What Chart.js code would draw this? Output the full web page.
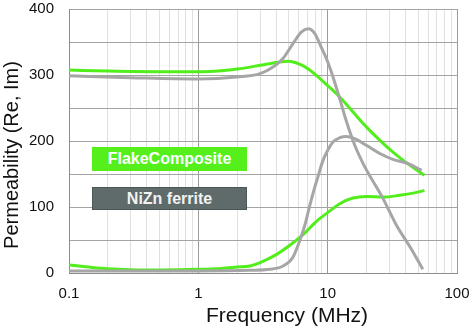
<!DOCTYPE html>
<html><head><meta charset="utf-8">
<script src="https://cdn.jsdelivr.net/npm/chart.js@4"></script>
<style>
html,body{margin:0;padding:0;background:#fff;}
#wrap{position:relative;width:473px;height:330px;}
canvas{display:block}
.tag{position:absolute;font-family:"Liberation Sans",Arial,sans-serif;font-weight:bold;font-size:16px;text-align:center;box-sizing:border-box;}
</style></head><body>
<div id="wrap"><canvas id="c" width="473" height="330"></canvas>
<div id="tag0" class="tag" style="left:92px;top:147px;width:155px;height:24px;line-height:24px;background:#55f01c;color:#fff;"></div>
<div id="tag1" class="tag" style="left:92px;top:187px;width:155px;height:23px;line-height:21px;background:#5f6b6b;color:#f2f2f2;border:1px solid #4c5858;"></div>
</div>
<script>
// ---- data ----
const seriesNames = ['FlakeComposite', 'NiZn ferrite'];
const xTitle = 'Frequency (MHz)';
const yTitle = 'Permeability (Re, Im)';

const flakeReFreq = [0.1,0.2,0.5,1,1.5,2,3,4,5,6,7,8,10,12.4,15.7,20,25,32,40,56];
const flakeRe     = [307.5,306,305,305,306.5,309,314.7,319,321,317,310,301,284,266.7,244,221,202,183,168,148];

const flakeImFreq = [0.1,0.15,0.2,0.3,0.5,1,1.5,2,2.5,3.16,4,5.1,6.45,8.15,10,12.4,15.7,20,27,36,46,56];
const flakeIm     = [12,8.5,6.5,5,4.5,5.5,7,9,10.6,17.7,27.8,42,58,78,91.5,105,113.6,116,115,117.7,121,125];

const niznReFreq = [0.1,0.3,1,2,3,3.78,4.51,5.39,6.25,7.07,7.95,8.93,10,11,12.4,13.9,16.2,18.8,21.8,26.8,34.1,43.4,54.4];
const niznRe     = [298.7,296,294,297,302,312,325,347.5,365,370,362.7,342,320,297,264,231,193.5,165.8,143,112.7,72,39.4,5.6];

const niznImFreq = [0.1,0.5,1,2.5,3.57,4.52,5.39,6.03,6.65,7.28,7.95,8.4,9.1,10,11,12.4,13.9,16.2,19.9,25.3,32.3,40.7,53.3];
const niznIm     = [3,3,3,4,5.6,10.6,24,47,72,102.6,130,145.5,168,186,198.5,205,207,203.6,193.5,181,171.8,166.7,155.6];

const xTickValues = [0.1,0.2,0.3,0.4,0.5,0.6,0.7,0.8,0.9,1,2,3,4,5,6,7,8,9,10,20,30,40,50,60,70,80,90,100];
const xMajorTicks = [0.1,1,10,100];
const xTickLabels = ['0.1','1','10','100'];
const yTickLabels = [0,100,200,300,400];

// ---- build ----
document.getElementById('tag0').textContent = seriesNames[0];
document.getElementById('tag1').textContent = seriesNames[1];

const pts = (xs, ys) => xs.map((x, i) => ({x, y: ys[i]}));
const GREEN = '#52ee1c', GRAY = '#a6a6a6';
const FONT = '"Liberation Sans", Arial, sans-serif';
const isMajor = v => xMajorTicks.some(m => Math.abs(m - v) < 1e-9);

function ds(label, data, color){
  return {label, data, borderColor: color, borderWidth: 3, pointRadius: 0,
          showLine: true, fill: false, cubicInterpolationMode: 'monotone'};
}

const axisTitles = {
  id: 'axisTitles',
  afterDraw(chart){
    const a = chart.chartArea, c = chart.ctx;
    c.save();
    c.fillStyle = '#111';
    c.textAlign = 'center';
    c.textBaseline = 'middle';
    c.font = '21px ' + FONT;
    c.fillText(xTitle, (a.left + a.right)/2 + 24, a.bottom + 43);
    c.translate(12, (a.top + a.bottom)/2 + 14);
    c.rotate(-Math.PI/2);
    c.font = '20px ' + FONT;
    c.fillText(yTitle, 0, 0);
    c.restore();
  }
};

new Chart(document.getElementById('c'), {
  type: 'scatter',
  data: { datasets: [
    ds(seriesNames[1] + ' Re', pts(niznReFreq, niznRe), GRAY),
    ds(seriesNames[1] + ' Im', pts(niznImFreq, niznIm), GRAY),
    ds(seriesNames[0] + ' Re', pts(flakeReFreq, flakeRe), GREEN),
    ds(seriesNames[0] + ' Im', pts(flakeImFreq, flakeIm), GREEN)
  ]},
  options: {
    responsive: false, animation: false, devicePixelRatio: 1,
    layout: { padding: { top: 9, right: 16, left: 0, bottom: 0 } },
    plugins: { legend: { display: false }, tooltip: { enabled: false } },
    scales: {
      x: {
        type: 'logarithmic', min: 0.1, max: 100,
        afterBuildTicks: s => { s.ticks = xTickValues.map(v => ({value: v})); },
        afterFit: s => { s.height = 57; s.paddingLeft = 0; s.paddingRight = 0; },
        ticks: {
          autoSkip: false, maxRotation: 0, padding: 0, color: '#111',
          font: { family: FONT, size: 15 },
          callback: v => { const i = xMajorTicks.findIndex(m => Math.abs(m - v) < 1e-9); return i >= 0 ? xTickLabels[i] : ''; }
        },
        grid: { drawTicks: true, tickLength: 12, tickColor: 'rgba(0,0,0,0)', lineWidth: 1,
          color: ctx => (ctx.tick && isMajor(ctx.tick.value)) ? '#9c9c9c' : '#e0e0e0' },
        border: { color: '#8c8c8c', width: 1 }
      },
      y: {
        type: 'linear', min: 0, max: 400,
        afterFit: s => { s.width = 69; s.paddingTop = 0; s.paddingBottom = 0; },
        ticks: {
          stepSize: 50, padding: 0, color: '#111',
          font: { family: FONT, size: 15 },
          callback: v => yTickLabels.includes(v) ? String(v) : ''
        },
        grid: { drawTicks: true, tickLength: 15, tickColor: 'rgba(0,0,0,0)', color: '#a4a4a4', lineWidth: 1 },
        border: { color: '#8c8c8c', width: 1 }
      }
    }
  },
  plugins: [axisTitles]
});
</script>
</body></html>
